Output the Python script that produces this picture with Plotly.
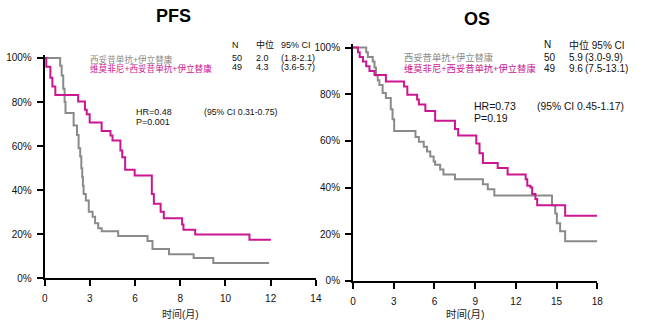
import plotly.graph_objects as go

W, H = 646, 331

# ---------------- data ----------------
# PFS: x in axis units (ticks evenly spaced, labelled as in the original)
pfs_tickvals = [0, 2, 4, 6, 8, 10, 12]
pfs_ticktext = ["0", "3", "6", "8", "10", "12", "14"]

pfs_ctrl_x = [0, 0.685, 0.75, 0.82, 0.88, 0.92, 1.28, 1.43, 1.50, 1.57, 1.62, 1.66, 1.69,
              1.72, 1.82, 1.95, 2.12, 2.23, 2.37, 2.52, 3.25, 4.55, 4.77, 5.50, 6.59, 7.46, 9.93]
pfs_ctrl_y = [100, 96.5, 92, 86, 80, 75, 69.3, 65, 59, 55.3, 50, 46, 42,
              38.3, 35.4, 30.2, 28, 25, 22.8, 21.4, 19.2, 17, 13.3, 11, 9.3, 7, 7]

pfs_trt_x = [0, 0.07, 0.25, 0.34, 0.47, 1.48, 1.78, 1.86, 1.99, 2.52, 2.91, 3.0, 3.35, 3.43,
             3.56, 3.98, 4.74, 4.83, 5.13, 5.27, 6.08, 6.14, 6.66, 9.06, 10.01]
pfs_trt_y = [100, 96, 91, 87, 83.2, 80.2, 76.5, 74.5, 70.7, 66.9, 64.8, 62.5, 58, 55,
             49.3, 46.7, 38.3, 33.9, 30.2, 27.3, 24.5, 22.1, 19.9, 17.6, 17.6]

# OS: months
os_tickvals = [0, 3, 6, 9, 12, 15, 18]
os_ticktext = ["0", "3", "6", "9", "12", "15", "18"]

os_ctrl_x = [0, 0.97, 1.09, 1.45, 1.58, 1.69, 1.82, 1.94, 2.18, 2.42, 2.78, 2.91, 3.03, 4.60,
             4.85, 5.21, 5.45, 5.69, 5.94, 6.05, 6.42, 6.66, 7.51, 9.57, 9.93, 10.41, 14.66,
             14.90, 15.02, 15.26, 15.63, 18.0]
os_ctrl_y = [100, 98, 96, 94, 91.5, 88, 86, 84, 80.5, 78.4, 73.5, 69.3, 64.2, 61.7,
             59.6, 57.5, 55.4, 53.3, 51.2, 49.8, 47.7, 45.6, 43.5, 41.4, 39.3, 36.6, 32.4,
             28.9, 24.7, 21.2, 17, 17]

os_trt_x = [0, 0.36, 0.49, 0.73, 0.97, 1.21, 1.58, 2.42, 3.76, 4.00, 4.72, 4.85, 5.33, 6.05,
            7.51, 7.75, 9.08, 9.32, 9.57, 10.66, 11.39, 12.72, 12.84, 13.08, 13.20, 13.44,
            13.57, 15.63, 18.0]
os_trt_y = [100, 98, 96, 94, 92, 90, 88.2, 85.4, 83.3, 79.8, 77.7, 75.6, 72.8, 68.6,
            65.1, 62.3, 58.9, 54.7, 50.5, 48.4, 45.6, 43.5, 40.8, 40, 37.2, 35.1,
            32.4, 27.9, 27.9]

y_tickvals = [0, 20, 40, 60, 80, 100]
y_ticktext = ["0%", "20%", "40%", "60%", "80%", "100%"]

arm_ctrl = "西妥昔单抗+伊立替康"
arm_trt = "维莫非尼+西妥昔单抗+伊立替康"
pfs_table = [["N", "中位", "95% CI"], ["50", "2.0", "(1.8-2.1)"], ["49", "4.3", "(3.6-5.7)"]]
os_table = [["N", "中位 95% CI", ""], ["50", "5.9", "(3.0-9.9)"], ["49", "9.6", "(7.5-13.1)"]]
pfs_hr = ["HR=0.48", "P=0.001", "(95% CI 0.31-0.75)"]
os_hr = ["HR=0.73", "P=0.19", "(95% CI 0.45-1.17)"]

GRAY = "#8a8a8a"
MAG = "#cc1590"
FONT = "Liberation Sans, Arial, Noto Sans CJK SC, sans-serif"

fig = go.Figure()


def add_curve(x, y, color, xa, ya):
    fig.add_trace(go.Scatter(x=x, y=y, mode="lines", line=dict(color=color, width=2, shape="hv"),
                             xaxis=xa, yaxis=ya, showlegend=False, hoverinfo="skip"))


add_curve(pfs_ctrl_x, pfs_ctrl_y, GRAY, "x", "y")
add_curve(pfs_trt_x, pfs_trt_y, MAG, "x", "y")
add_curve(os_ctrl_x, os_ctrl_y, GRAY, "x2", "y2")
add_curve(os_trt_x, os_trt_y, MAG, "x2", "y2")


def px(x):
    return x / W


def py(y):
    return 1 - y / H


axis_common = dict(showline=True, linecolor="black", linewidth=2, ticks="outside", ticklen=6,
                   tickwidth=2, tickcolor="black", showgrid=False, zeroline=False,
                   tickmode="array", tickfont=dict(family=FONT, size=10, color="#111"))

# PFS axes: x 42.3..317.3 px ; y 0% at 283.3, 2.26 px per %
pfs_top = 283.3 - 101.5 * 2.26
os_top = 285.7 - 101.5 * 2.39

fig.update_layout(
    width=W, height=H, margin=dict(l=0, r=0, t=0, b=0),
    paper_bgcolor="white", plot_bgcolor="white",
    xaxis=dict(domain=[px(42.3), px(317.3)], range=[0, 12], tickvals=pfs_tickvals,
               ticktext=pfs_ticktext, anchor="y", ticklabelstandoff=4, **axis_common),
    yaxis=dict(domain=[py(283.3), py(pfs_top)], range=[0, 101.5], tickvals=y_tickvals,
               ticktext=y_ticktext, anchor="x", ticklabelstandoff=3, **axis_common),
    xaxis2=dict(domain=[px(355), px(602.7)], range=[0, 18], tickvals=os_tickvals,
                ticktext=os_ticktext, anchor="y2", ticklabelstandoff=4, **axis_common),
    yaxis2=dict(domain=[py(285.7), py(os_top)], range=[0, 101.5], tickvals=y_tickvals,
                ticktext=y_ticktext, anchor="x2", ticklabelstandoff=3, **axis_common),
)

ann = []


def text(x, y, s, size, color="#111", anchor="left", bold=False):
    ann.append(dict(x=px(x), y=py(y), xref="paper", yref="paper", text=("<b>%s</b>" % s) if bold else s,
                    showarrow=False, xanchor=anchor, yanchor="middle",
                    font=dict(family=FONT, size=size, color=color)))


# titles
text(173, 14, "PFS", 18, "#000", "center", True)
text(481, 17, "OS", 18, "#000", "center", True)
# axis titles
text(180, 320, "时间(月)", 10, "#222", "center")
text(469, 320, "时间(月)", 10.5, "#222", "center")

# PFS legend/table
text(86.5, 58.5, arm_ctrl, 8.6, GRAY)
text(86.5, 68.5, arm_trt, 8.6, MAG)
for r, yy in zip(pfs_table, [44, 57.5, 67]):
    text(230.5, yy, r[0], 9)
    text(254.5, yy, r[1], 9)
    text(280, yy, r[2], 9)
text(133, 112.7, pfs_hr[0], 9)
text(133, 123.3, pfs_hr[1], 9)
text(201.5, 112.7, pfs_hr[2], 8.7)

# OS legend/table
text(405, 57, arm_ctrl, 9.3, GRAY)
text(405, 68, arm_trt, 9.3, MAG)
for r, yy in zip(os_table, [44, 57, 68]):
    text(546.5, yy, r[0], 10)
    text(571.5, yy, r[1], 10)
    if r[2]:
        text(588.3, yy, r[2], 10)
text(476, 106.7, os_hr[0], 10.5)
text(476, 118.5, os_hr[1], 10.5)
text(540, 106.7, os_hr[2], 10.3)

fig.update_layout(annotations=ann)
fig.write_html("out.html", config={"displayModeBar": False},
               post_script="document.body.style.margin='0';document.body.style.overflow='hidden';")
